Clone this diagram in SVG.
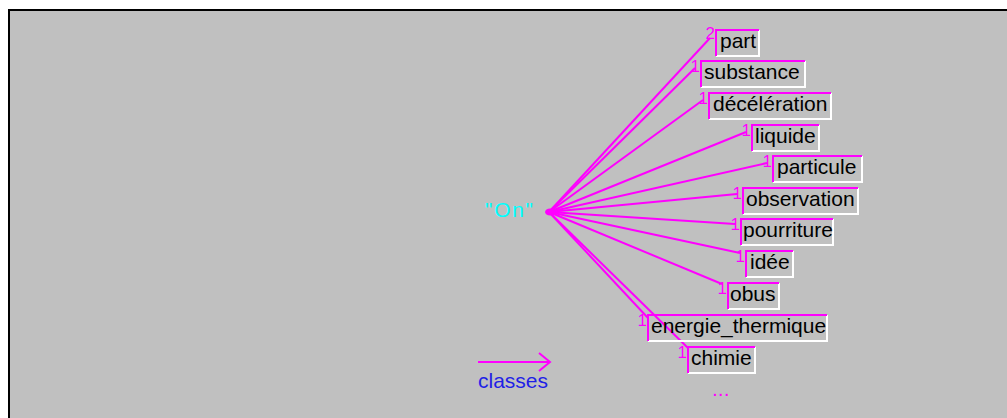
<svg xmlns="http://www.w3.org/2000/svg" width="1007" height="418" viewBox="0 0 1007 418">
<style>
.lbl{font-family:"Liberation Sans",Arial,sans-serif;font-size:21px;fill:#000}
.cnt{font-family:"Liberation Sans",Arial,sans-serif;font-size:17px;fill:#ff00ff;text-anchor:end}
.wh{fill:none;stroke:#fff;stroke-width:2}
.mg{fill:none;stroke:#ff00ff;stroke-width:2}
.con line{stroke:#ff00ff;stroke-width:2}
</style>
<defs>
<marker id="arr" markerWidth="14" markerHeight="20" refX="12" refY="10" orient="auto" markerUnits="userSpaceOnUse">
<polyline points="1,1 12,10 1,19" fill="none" stroke="#ff00ff" stroke-width="2"/>
</marker>
</defs>
<rect width="1007" height="418" fill="#fff"/>
<rect x="8" y="9" width="999" height="409" fill="#c0c0c0"/>
<path d="M9,418 V10 H1007" fill="none" stroke="#000" stroke-width="2"/>
<g id="connectors" class="con">
<line x1="549" y1="212" x2="710" y2="38"/>
<line x1="549" y1="212" x2="695" y2="68"/>
<line x1="549" y1="212" x2="703" y2="100"/>
<line x1="549" y1="212" x2="746" y2="132"/>
<line x1="549" y1="212" x2="767" y2="163"/>
<line x1="549" y1="212" x2="737" y2="194"/>
<line x1="549" y1="212" x2="735" y2="224"/>
<line x1="549" y1="212" x2="740" y2="253"/>
<line x1="549" y1="212" x2="722" y2="284"/>
<line x1="549" y1="212" x2="648" y2="318"/>
<line x1="549" y1="212" x2="688" y2="348"/>
<ellipse cx="550" cy="212" rx="5" ry="3.5" fill="#ff00ff"/>
</g>
<g id="n-on"><text x="485" y="217" font-family="Liberation Sans, Arial, sans-serif" font-size="21" fill="#00ffff" textLength="48">"On"</text></g>
<g id="n-part" transform="translate(716,30)"><polyline class="wh" points="43,0 43,26 0,26"/><polyline class="mg" points="0,26 0,0 43,0"/><text class="lbl" x="4" y="18">part</text><text class="cnt" x="-1" y="9">2</text></g>
<g id="n-substance" transform="translate(701,61)"><polyline class="wh" points="104,0 104,26 0,26"/><polyline class="mg" points="0,26 0,0 104,0"/><text class="lbl" x="3" y="18">substance</text><text class="cnt" x="-1" y="11">1</text></g>
<g id="n-deceleration" transform="translate(709,93)"><polyline class="wh" points="122,0 122,26 0,26"/><polyline class="mg" points="0,26 0,0 122,0"/><text class="lbl" x="4" y="18">décélération</text><text class="cnt" x="-1" y="11">1</text></g>
<g id="n-liquide" transform="translate(752,125)"><polyline class="wh" points="67,0 67,26 0,26"/><polyline class="mg" points="0,26 0,0 67,0"/><text class="lbl" x="3" y="18">liquide</text><text class="cnt" x="-1" y="11">1</text></g>
<g id="n-particule" transform="translate(773,156)"><polyline class="wh" points="89,0 89,26 0,26"/><polyline class="mg" points="0,26 0,0 89,0"/><text class="lbl" x="4" y="18">particule</text><text class="cnt" x="-1" y="11">1</text></g>
<g id="n-observation" transform="translate(743,188)"><polyline class="wh" points="115,0 115,26 0,26"/><polyline class="mg" points="0,26 0,0 115,0"/><text class="lbl" x="3" y="18">observation</text><text class="cnt" x="-1" y="11">1</text></g>
<g id="n-pourriture" transform="translate(741,219)"><polyline class="wh" points="92,0 92,26 0,26"/><polyline class="mg" points="0,26 0,0 92,0"/><text class="lbl" x="2" y="18">pourriture</text><text class="cnt" x="-1" y="11">1</text></g>
<g id="n-idee" transform="translate(746,251)"><polyline class="wh" points="47,0 47,26 0,26"/><polyline class="mg" points="0,26 0,0 47,0"/><text class="lbl" x="4" y="18">idée</text><text class="cnt" x="-1" y="11">1</text></g>
<g id="n-obus" transform="translate(728,283)"><polyline class="wh" points="51,0 51,26 0,26"/><polyline class="mg" points="0,26 0,0 51,0"/><text class="lbl" x="2" y="18">obus</text><text class="cnt" x="-1" y="11">1</text></g>
<g id="n-energie" transform="translate(648,315)"><polyline class="wh" points="179,0 179,26 0,26"/><polyline class="mg" points="0,26 0,0 179,0"/><text class="lbl" x="3" y="18">energie_thermique</text><text class="cnt" x="-1" y="11">1</text></g>
<g id="n-chimie" transform="translate(688,347)"><polyline class="wh" points="67,0 67,26 0,26"/><polyline class="mg" points="0,26 0,0 67,0"/><text class="lbl" x="3" y="18">chimie</text><text class="cnt" x="-1" y="11">1</text></g>
<g id="more"><text x="712" y="396" font-family="Liberation Sans, Arial, sans-serif" font-size="21" fill="#ff00ff">...</text></g>
<g id="legend">
<line x1="478" y1="362" x2="550" y2="362" stroke="#ff00ff" stroke-width="2" marker-end="url(#arr)"/>
<text x="478" y="388" font-family="Liberation Sans, Arial, sans-serif" font-size="21" fill="#1f1fe6">classes</text>
</g>
</svg>
